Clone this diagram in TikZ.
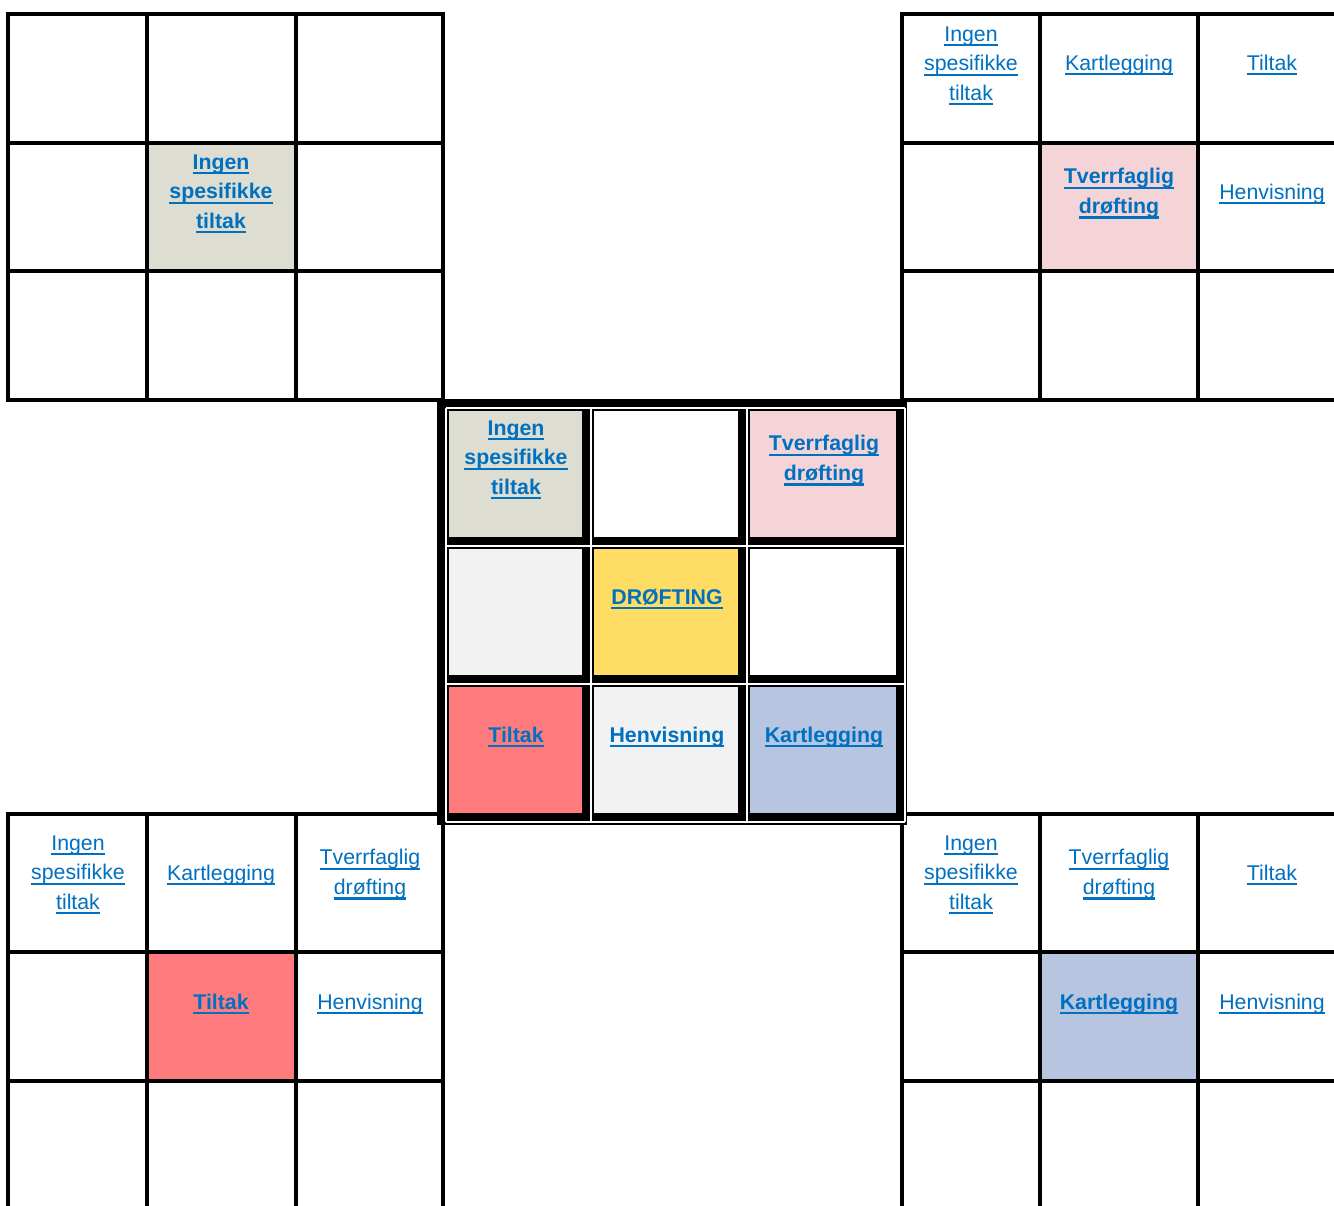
\documentclass[tikz,border=0pt]{standalone}
\usepackage{fontspec}
\setmainfont{Liberation Sans}
\usetikzlibrary{positioning}
\definecolor{lnkblue}{RGB}{0,112,192}
\definecolor{ingcol}{RGB}{221,222,209}
\definecolor{tvcol}{RGB}{244,212,215}
\definecolor{tilcol}{RGB}{255,123,126}
\definecolor{kartcol}{RGB}{184,197,224}
\definecolor{drofcol}{RGB}{255,220,100}
\definecolor{lgray}{RGB}{242,242,242}
\newcommand\ulk[1]{\setbox0=\hbox{#1}\rlap{\copy0}\vrule width\wd0 height -3pt depth 5.3pt\relax}
\tikzset{
  gridln/.style = {line width=3.3pt, line cap=rect},
  wline/.style  = {white, line width=1.2pt},
  lnk/.style    = {text=lnkblue, align=center, inner sep=0pt,
                   font=\fontsize{21.3}{29.5}\selectfont},
  blnk/.style   = {lnk, font=\fontsize{21.3}{29.5}\selectfont\bfseries},
}

\begin{document}
\begin{tikzpicture}[x=1pt, y=-1pt]
  \useasboundingbox (0,0) rectangle (1334,1206);
  \fill[white] (0,0) rectangle (1334,1206);

  % outer grids: coloured cells first
  \fill[ingcol]  (147,143) rectangle (296,271);
  \fill[tvcol]   (1040,143) rectangle (1198,271);
  \fill[tilcol]  (147,952) rectangle (296,1081);
  \fill[kartcol] (1040,952) rectangle (1198,1081);

  % top left
  \foreach \x in {8,147,296,443}{ \draw[gridln] (\x,14) -- (\x,400); }
  \foreach \y in {14,143,271,400}{ \draw[gridln] (8,\y) -- (443,\y); }
  % top right
  \foreach \x in {902,1040,1198}{ \draw[gridln] (\x,14) -- (\x,400); }
  \foreach \y in {14,143,271,400}{ \draw[gridln] (902,\y) -- (1336,\y); }
  % bottom left
  \foreach \x in {8,147,296,443}{ \draw[gridln] (\x,814) -- (\x,1208); }
  \foreach \y in {814,952,1081}{ \draw[gridln] (8,\y) -- (443,\y); }
  % bottom right
  \foreach \x in {902,1040,1198}{ \draw[gridln] (\x,814) -- (\x,1208); }
  \foreach \y in {814,952,1081}{ \draw[gridln] (902,\y) -- (1336,\y); }

  % centre block
  \fill[black] (437,399) rectangle (907,825);
  \foreach \x in {446,591,747,905}{ \draw[wline] (\x,408) -- (\x,822); }
  \foreach \y in {408,546,684,822}{ \draw[wline] (446,\y) -- (905,\y); }
  \foreach \xa/\xb/\ya/\yb/\c in {
      449/582/411/537/ingcol, 594/738/411/537/white, 750/896/411/537/tvcol,
      449/582/549/675/lgray,  594/738/549/675/drofcol, 750/896/549/675/white,
      449/582/687/813/tilcol, 594/738/687/813/lgray, 750/896/687/813/kartcol}{
    \fill[\c] (\xa,\ya) rectangle (\xb,\yb);
  }

  % centre labels
  \node[blnk] (cing)  at (516,460)   {\ulk{Ingen}\\\ulk{spesifikke}\\\ulk{tiltak}};
  \node[blnk] (ctv)   at (824,460.5) {\ulk{Tverrfaglig}\\\ulk{drøfting}};
  \node[blnk] (cdrof) at (667,599)   {\ulk{DRØFTING}};
  \node[blnk] (ctil)  at (516,737)   {\ulk{Tiltak}};
  \node[blnk] (chen)  at (667,737)   {\ulk{Henvisning}};
  \node[blnk] (ckart) at (824,737)   {\ulk{Kartlegging}};

  % top left labels
  \node[blnk] (tling) at (221,194) {\ulk{Ingen}\\\ulk{spesifikke}\\\ulk{tiltak}};

  % top right labels
  \node[lnk]  (tring)  at (971,66)    {\ulk{Ingen}\\\ulk{spesifikke}\\\ulk{tiltak}};
  \node[lnk]  (trkart) at (1119,65)   {\ulk{Kartlegging}};
  \node[lnk]  (trtil)  at (1272,65)   {\ulk{Tiltak}};
  \node[blnk] (trtv)   at (1119,193.5){\ulk{Tverrfaglig}\\\ulk{drøfting}};
  \node[lnk]  (trhen)  at (1272,194)  {\ulk{Henvisning}};

  % bottom left labels
  \node[lnk]  (bling)  at (78,875)    {\ulk{Ingen}\\\ulk{spesifikke}\\\ulk{tiltak}};
  \node[lnk]  (blkart) at (221,875)   {\ulk{Kartlegging}};
  \node[lnk]  (bltv)   at (370,874.5) {\ulk{Tverrfaglig}\\\ulk{drøfting}};
  \node[blnk] (bltil)  at (221,1004)  {\ulk{Tiltak}};
  \node[lnk]  (blhen)  at (370,1004)  {\ulk{Henvisning}};

  % bottom right labels
  \node[lnk]  (bring)  at (971,875)   {\ulk{Ingen}\\\ulk{spesifikke}\\\ulk{tiltak}};
  \node[lnk]  (brtv)   at (1119,874.5){\ulk{Tverrfaglig}\\\ulk{drøfting}};
  \node[lnk]  (brtil)  at (1272,875)  {\ulk{Tiltak}};
  \node[blnk] (brkart) at (1119,1004) {\ulk{Kartlegging}};
  \node[lnk]  (brhen)  at (1272,1004) {\ulk{Henvisning}};
\end{tikzpicture}
\end{document}
